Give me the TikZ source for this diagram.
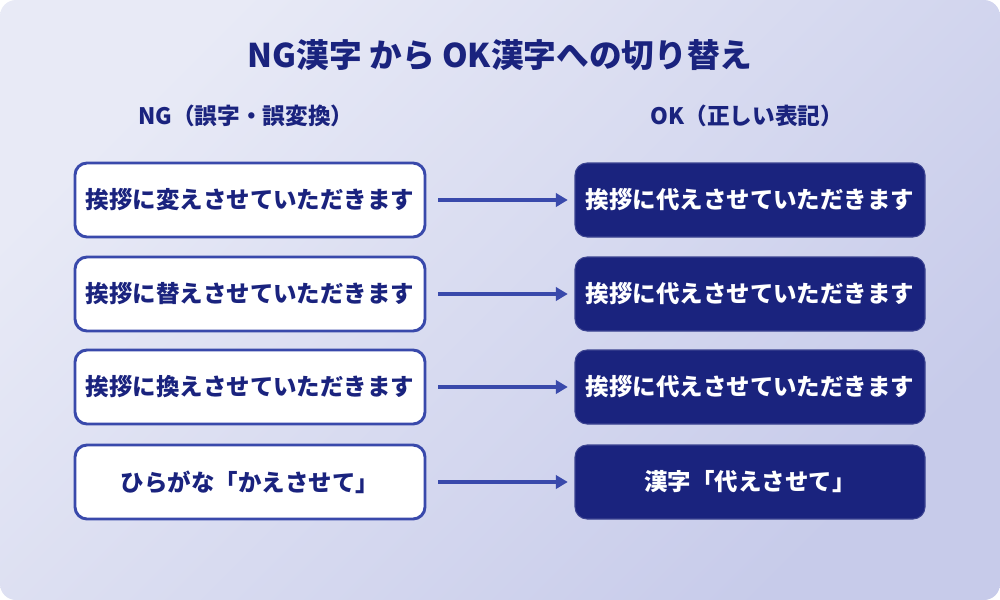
\documentclass[tikz,border=0pt]{standalone}
\usepackage{fontspec}
\setmainfont{Noto Sans CJK JP}
\usetikzlibrary{arrows.meta}
\definecolor{navy}{HTML}{1A237E}
\definecolor{midblue}{HTML}{3949AB}
\definecolor{bgA}{HTML}{E8EAF6}
\definecolor{bgB}{HTML}{C7CBEA}
\tikzset{
  ngbox/.style={draw=midblue, line width=2.2pt, fill=white, rounded corners=9pt,
    minimum width=262.5pt, minimum height=55.5pt, inner sep=0pt,
    font=\fontsize{17.6}{21}\selectfont\bfseries, text=navy},
  okbox/.style={draw=navy!85!white, line width=0.8pt, fill=navy, rounded corners=9pt,
    minimum width=262.5pt, minimum height=55.5pt, inner sep=0pt,
    font=\fontsize{17.6}{21}\selectfont\bfseries, text=white},
  conn/.style={draw=midblue, line width=2.4pt, -{Triangle[length=9pt,width=10pt]}, shorten <=9pt, shorten >=5pt},
  headtxt/.style={font=\fontsize{17}{20}\selectfont\bfseries, text=navy},
}
\begin{document}
\begin{tikzpicture}[x=0.75pt,y=-0.75pt]
\useasboundingbox (0,0) rectangle (1000,600);
\path[left color=bgA, right color=bgB, shading angle=45, rounded corners=12pt] (0,0) rectangle (1000,600);
\node[font=\fontsize{24.5}{28}\selectfont\bfseries, text=navy] (title) at (500,55) {NG漢字 から OK漢字への切り替え};
\node[headtxt] (hng) at (246,116) {NG（誤字・誤変換）};
\node[headtxt] (hok) at (747,116) {OK（正しい表記）};
\node[ngbox] (n1) at (250,200) {挨拶に変えさせていただきます};
\node[ngbox] (n2) at (250,294) {挨拶に替えさせていただきます};
\node[ngbox] (n3) at (250,387) {挨拶に換えさせていただきます};
\node[ngbox] (n4) at (250,482) {ひらがな「かえさせて」};
\node[okbox] (o1) at (750,200) {挨拶に代えさせていただきます};
\node[okbox] (o2) at (750,294) {挨拶に代えさせていただきます};
\node[okbox] (o3) at (750,387) {挨拶に代えさせていただきます};
\node[okbox] (o4) at (750,482) {漢字「代えさせて」};
\foreach \i in {1,2,3,4} \draw[conn] (n\i) -- (o\i);
\end{tikzpicture}
\end{document}
